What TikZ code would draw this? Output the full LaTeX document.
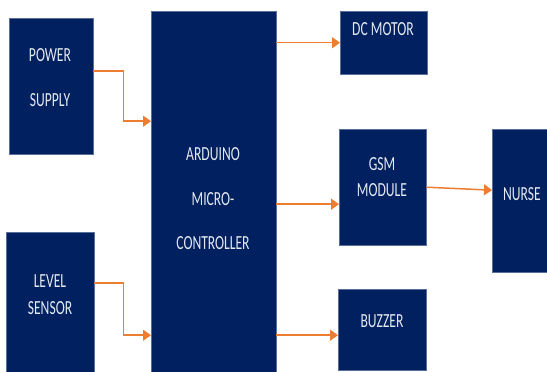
\documentclass[tikz,border=0pt]{standalone}
\usepackage{fontspec}
\setmainfont{Carlito}[FakeStretch=0.68]
\usetikzlibrary{arrows.meta}
\definecolor{navy}{HTML}{002060}
\definecolor{arrorange}{HTML}{ED7D31}
\tikzset{
  blk/.style={anchor=north west, fill=navy, draw=navy!65!white, line width=0.4pt, inner sep=0pt},
  txt/.style={text=white!90!navy, align=center, inner sep=0pt, font=\fontsize{20}{27}\selectfont},
  wide/.style={font=\fontsize{20}{45}\selectfont},
  lnk/.style={-{Triangle[length=8pt,width=11pt]}, arrorange, line width=1.5pt},
}

\begin{document}
\begin{tikzpicture}[x=1pt,y=-1pt]
  \useasboundingbox (0,0) rectangle (547,372);
  % --- blocks ---
  \node[blk, minimum width=84pt, minimum height=136pt] (pwr) at (9,18) {};
  \node[blk, minimum width=125pt, minimum height=365pt] (ard) at (151,11) {};
  \node[blk, minimum width=88pt, minimum height=145pt] (lvl) at (6,232) {};
  \node[blk, minimum width=87pt, minimum height=63pt] (dcm) at (340,11) {};
  \node[blk, minimum width=87pt, minimum height=116pt] (gsm) at (339,129) {};
  \node[blk, minimum width=60pt, minimum height=143pt] (nrs) at (492,129) {};
  \node[blk, minimum width=88pt, minimum height=81pt] (buz) at (338,289) {};

  % --- labels ---
  \node[txt, wide] (pwrtxt) at (50,77.5) {POWER\\SUPPLY};
  \node[txt, font=\fontsize{20}{44.5}\selectfont] (ardtxt) at (213,199) {ARDUINO\\MICRO-\\CONTROLLER};
  \node[txt] (lvltxt) at (50,294.5) {LEVEL\\SENSOR};
  \node[txt] (dcmtxt) at (383,29) {DC MOTOR};
  \node[txt, font=\fontsize{20}{26}\selectfont] (gsmtxt) at (382,177) {GSM\\MODULE};
  \node[txt] (nrstxt) at (522,194) {NURSE};
  \node[txt] (buztxt) at (382,321) {BUZZER};

  % --- links ---
  \coordinate (gsmin) at ([yshift=-17pt]gsm.west);
  \coordinate (buzin) at ([yshift=-5.5pt]buz.west);
  \draw[lnk] ([yshift=15pt]pwr.east) -- ++(30,0) |- ([yshift=72.5pt]ard.west);
  \draw[lnk] ([yshift=21.5pt]lvl.east) -- ++(29,0) |- ([yshift=-141.5pt]ard.west);
  \draw[lnk] (ard.east |- dcm.west) -- (dcm.west);
  \draw[lnk] (ard.east |- gsmin) -- (gsmin);
  \draw[lnk] (ard.east |- buzin) -- (buzin);
  \draw[lnk] (gsm.east) -- ([yshift=10.5pt]nrs.west);
\end{tikzpicture}
\end{document}
